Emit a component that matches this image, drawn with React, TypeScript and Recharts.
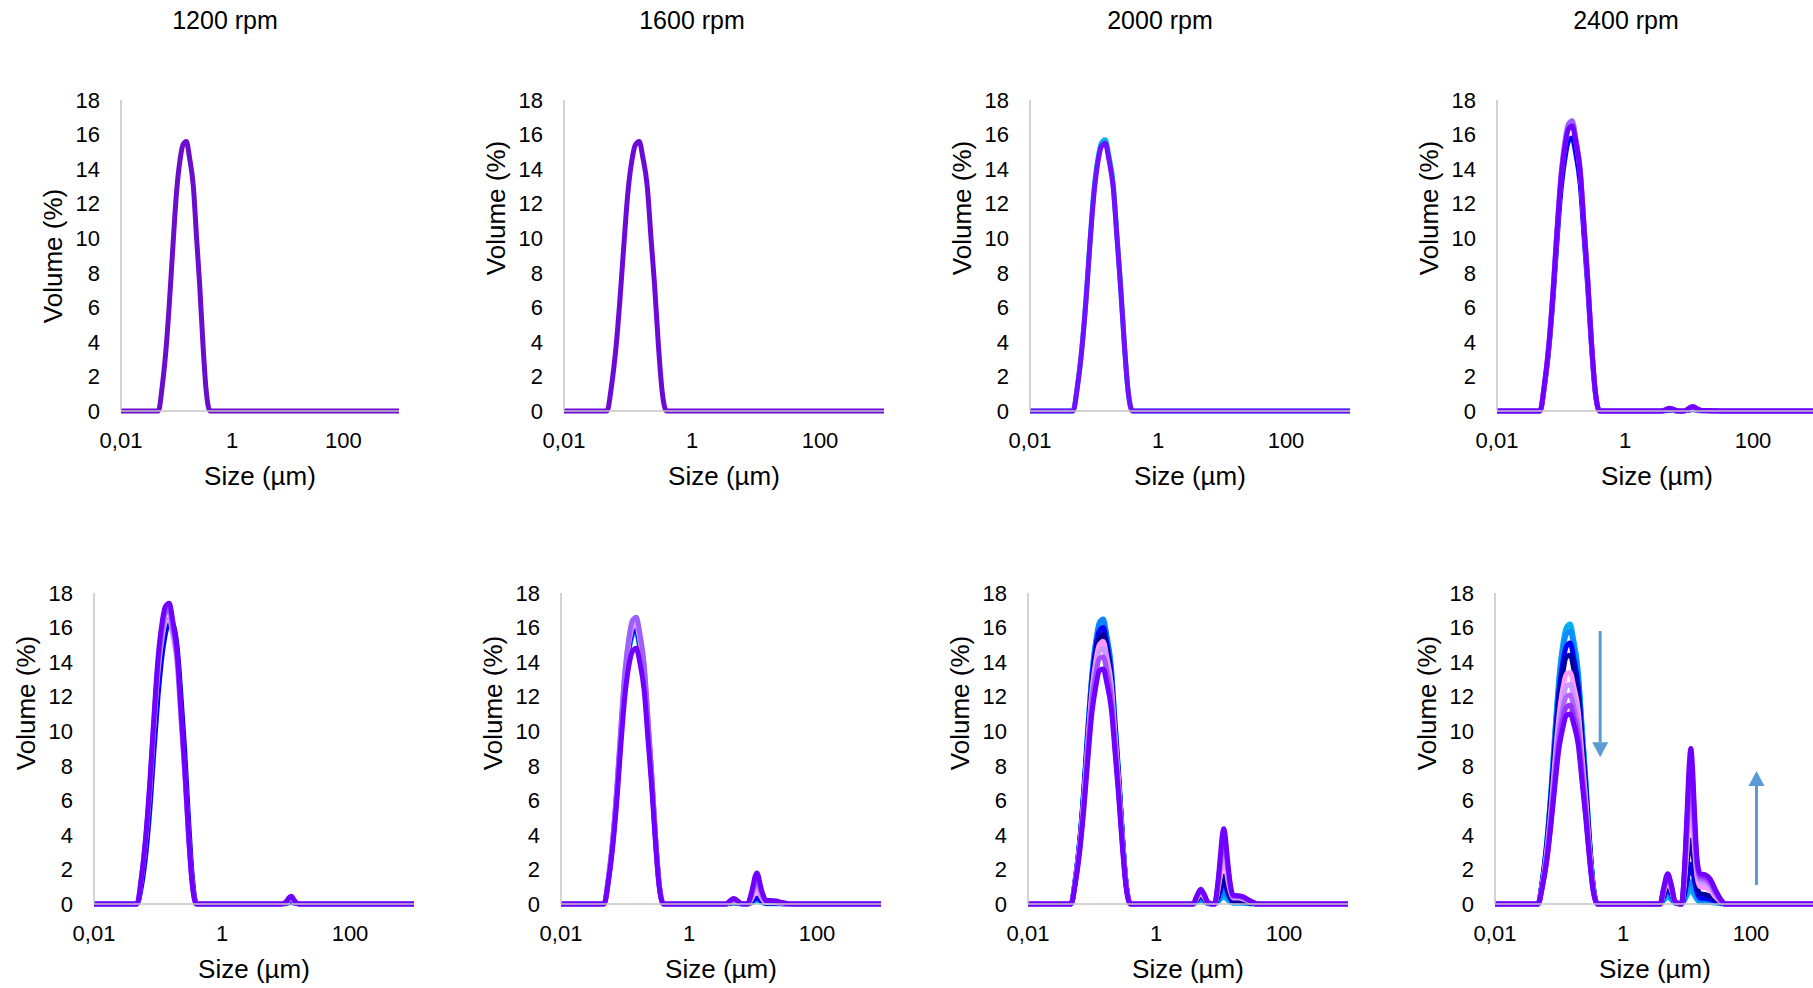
import React from "react"
import { LineChart, Line, XAxis, YAxis, ReferenceLine } from "recharts"

// particle size grid (µm): main population and coarse population
const MAIN_SIZES = [0.01, 0.047, 0.055, 0.065, 0.075, 0.085, 0.1, 0.115, 0.13, 0.15, 0.17, 0.2, 0.23, 0.26, 0.3, 0.34, 0.4]
const SEC_SIZES = [3.8, 4.3, 5.0, 5.7, 6.5, 8.2, 9.3, 10.2, 10.8, 11.5, 12.2, 13, 14.3, 16, 19, 23, 28, 34, 40, 1000]

const TITLES = ["1200 rpm", "1600 rpm", "2000 rpm", "2400 rpm"]
const X_TICKS = [0.01, 1, 100]
const Y_TICKS = [0, 2, 4, 6, 8, 10, 12, 14, 16, 18]

const FLAT_SEC = [0, 0, 0, 0, 0, 0, 0, 0, 0, 0, 0, 0, 0, 0, 0, 0, 0, 0, 0, 0]

// ---- top row ----
const T1200_MAIN = [[0, 0, 1.4, 3.7, 6.5, 9.3, 12.7, 14.5, 15.4, 15.6, 14.7, 13.0, 9.9, 7.3, 3.7, 1.2, 0]]
const T1200_SEC = [FLAT_SEC]
const T1200_COLORS = ["#6a0dcc"]

const T1600_MAIN = [[0, 0, 1.4, 3.7, 6.5, 9.3, 12.7, 14.5, 15.4, 15.6, 14.7, 13.0, 9.9, 7.3, 3.7, 1.2, 0]]
const T1600_SEC = [FLAT_SEC]
const T1600_COLORS = ["#6c0ad8"]

const T2000_MAIN = [
  [0, 0, 1.4, 3.7, 6.5, 9.4, 12.8, 14.6, 15.5, 15.7, 14.8, 13.1, 10.0, 7.3, 3.7, 1.2, 0],
  [0, 0, 1.4, 3.7, 6.4, 9.3, 12.6, 14.4, 15.3, 15.5, 14.6, 12.9, 9.9, 7.2, 3.7, 1.2, 0],
]
const T2000_SEC = [FLAT_SEC, FLAT_SEC]
const T2000_COLORS = ["#00b0f0", "#7010ff"]

const T2400_MAIN = [
  [0, 0, 1.4, 3.7, 6.5, 9.4, 12.8, 14.6, 15.6, 15.8, 14.9, 13.1, 10.0, 7.3, 3.7, 1.2, 0],
  [0, 0, 1.5, 3.9, 6.9, 9.9, 13.5, 15.4, 16.4, 16.6, 15.7, 13.8, 10.6, 7.7, 3.9, 1.3, 0],
  [0, 0, 1.5, 4.0, 7.0, 10.1, 13.7, 15.6, 16.6, 16.8, 15.8, 14.0, 10.7, 7.8, 4.0, 1.3, 0],
  [0, 0, 1.5, 3.9, 6.8, 9.9, 13.4, 15.3, 16.3, 16.5, 15.6, 13.8, 10.5, 7.7, 3.9, 1.3, 0],
]
const T2400_SEC = [
  [0, 0.02, 0.05, 0.03, 0, 0, 0.02, 0.05, 0.07, 0.08, 0.07, 0.05, 0.02, 0.01, 0.01, 0, 0, 0, 0, 0],
  [0, 0.05, 0.1, 0.06, 0.01, 0, 0.05, 0.1, 0.14, 0.15, 0.13, 0.09, 0.05, 0.02, 0.02, 0.01, 0, 0, 0, 0],
  [0, 0.06, 0.13, 0.08, 0.01, 0, 0.06, 0.14, 0.18, 0.2, 0.18, 0.12, 0.06, 0.02, 0.02, 0.02, 0.01, 0, 0, 0],
  [0, 0.08, 0.16, 0.1, 0.02, 0, 0.08, 0.18, 0.24, 0.26, 0.23, 0.16, 0.08, 0.03, 0.03, 0.02, 0.01, 0, 0, 0],
]
const T2400_COLORS = ["#0000ff", "#cc99ff", "#9f5fff", "#7000ff"]

// ---- bottom row ----
const B1200_MAIN = [
  [0, 0, 1.0, 3.0, 5.6, 8.5, 12.0, 14.3, 15.6, 16.3, 16.2, 14.8, 11.9, 9.0, 4.9, 1.8, 0],
  [0, 0, 1.5, 3.9, 6.8, 9.9, 13.4, 15.3, 16.3, 16.5, 15.6, 13.8, 10.5, 7.7, 3.9, 1.3, 0],
  [0, 0, 1.5, 4.0, 7.0, 10.2, 13.9, 15.8, 16.8, 17.0, 16.0, 14.2, 10.8, 7.9, 4.0, 1.3, 0],
  [0, 0, 1.5, 4.1, 7.2, 10.4, 14.2, 16.2, 17.2, 17.4, 16.4, 14.5, 11.1, 8.1, 4.1, 1.3, 0],
]
const B1200_SEC = [
  [0, 0, 0, 0, 0, 0, 0.01, 0.03, 0.06, 0.09, 0.1, 0.07, 0.02, 0, 0, 0, 0, 0, 0, 0],
  [0, 0, 0, 0, 0, 0, 0.03, 0.1, 0.2, 0.28, 0.3, 0.2, 0.07, 0, 0, 0, 0, 0, 0, 0],
  [0, 0, 0, 0, 0, 0, 0.04, 0.13, 0.25, 0.35, 0.38, 0.25, 0.08, 0, 0, 0, 0, 0, 0, 0],
  [0, 0, 0, 0, 0, 0, 0.05, 0.15, 0.3, 0.42, 0.45, 0.3, 0.1, 0, 0, 0, 0, 0, 0, 0],
]
const B1200_COLORS = ["#0000ff", "#cc99ff", "#9f5fff", "#7000ff"]

const B1600_MAIN = [
  [0, 0, 1.4, 3.7, 6.5, 9.4, 12.8, 14.6, 15.5, 15.7, 14.8, 13.1, 10.0, 7.3, 3.7, 1.2, 0],
  [0, 0, 1.4, 3.8, 6.6, 9.5, 13.0, 14.8, 15.7, 15.9, 15.0, 13.3, 10.1, 7.4, 3.8, 1.2, 0],
  [0, 0, 1.4, 3.8, 6.7, 9.7, 13.2, 15.1, 16.0, 16.2, 15.3, 13.5, 10.3, 7.5, 3.8, 1.2, 0],
  [0, 0, 1.5, 3.9, 6.8, 9.8, 13.4, 15.3, 16.2, 16.4, 15.5, 13.7, 10.4, 7.6, 3.9, 1.2, 0],
  [0, 0, 1.5, 3.9, 6.9, 9.9, 13.5, 15.4, 16.4, 16.6, 15.7, 13.8, 10.6, 7.7, 3.9, 1.3, 0],
  [0, 0, 1.3, 3.5, 6.1, 8.9, 12.1, 13.8, 14.6, 14.8, 14.0, 12.3, 9.4, 6.9, 3.5, 1.1, 0],
]
const B1600_SEC = [
  [0, 0.02, 0.05, 0.03, 0, 0, 0.06, 0.13, 0.18, 0.2, 0.18, 0.12, 0.06, 0.02, 0.02, 0.02, 0.01, 0, 0, 0],
  [0, 0.04, 0.08, 0.05, 0.01, 0, 0.1, 0.23, 0.31, 0.35, 0.31, 0.22, 0.1, 0.04, 0.04, 0.03, 0.02, 0, 0, 0],
  [0, 0.08, 0.15, 0.09, 0.01, 0, 0.24, 0.53, 0.71, 0.8, 0.7, 0.5, 0.24, 0.08, 0.08, 0.07, 0.04, 0.01, 0, 0],
  [0, 0.1, 0.2, 0.13, 0.02, 0, 0.33, 0.73, 0.98, 1.1, 0.97, 0.68, 0.33, 0.12, 0.12, 0.1, 0.06, 0.02, 0, 0],
  [0, 0.12, 0.25, 0.16, 0.02, 0, 0.42, 0.93, 1.25, 1.4, 1.23, 0.87, 0.42, 0.15, 0.15, 0.12, 0.07, 0.02, 0, 0],
  [0, 0.16, 0.32, 0.2, 0.03, 0, 0.55, 1.2, 1.6, 1.8, 1.6, 1.1, 0.55, 0.2, 0.2, 0.17, 0.09, 0.03, 0, 0],
]
const B1600_COLORS = ["#00b0f0", "#0000ff", "#ff99ff", "#cc99ff", "#9f5fff", "#7000ff"]

const B2000_MAIN = [
  [0, 0, 1.5, 3.8, 6.8, 9.8, 13.3, 15.2, 16.1, 16.3, 15.4, 13.6, 10.4, 7.6, 3.8, 1.2, 0],
  [0, 0, 1.5, 3.9, 6.8, 9.9, 13.4, 15.3, 16.3, 16.5, 15.6, 13.8, 10.5, 7.7, 3.9, 1.3, 0],
  [0, 0, 1.4, 3.8, 6.6, 9.6, 13.0, 14.9, 15.8, 16.0, 15.1, 13.3, 10.2, 7.4, 3.8, 1.2, 0],
  [0, 0, 1.4, 3.7, 6.5, 9.3, 12.7, 14.5, 15.4, 15.6, 14.7, 13.0, 9.9, 7.3, 3.7, 1.2, 0],
  [0, 0, 1.4, 3.6, 6.3, 9.1, 12.4, 14.1, 15.0, 15.2, 14.3, 12.7, 9.7, 7.1, 3.6, 1.2, 0],
  [0, 0, 1.3, 3.5, 6.1, 8.9, 12.1, 13.8, 14.6, 14.8, 14.0, 12.3, 9.4, 6.9, 3.5, 1.1, 0],
  [0, 0, 1.3, 3.4, 5.9, 8.6, 11.7, 13.3, 14.2, 14.3, 13.5, 11.9, 9.1, 6.6, 3.4, 1.1, 0],
  [0, 0, 1.2, 3.2, 5.6, 8.1, 11.1, 12.6, 13.5, 13.6, 12.8, 11.3, 8.7, 6.3, 3.2, 1.0, 0],
]
const B2000_SEC = [
  [0, 0.1, 0.2, 0.13, 0.02, 0, 0.12, 0.27, 0.36, 0.4, 0.35, 0.25, 0.12, 0.05, 0.05, 0.04, 0.02, 0.01, 0, 0],
  [0, 0.15, 0.3, 0.19, 0.03, 0, 0.2, 0.47, 0.62, 0.7, 0.62, 0.44, 0.2, 0.08, 0.08, 0.07, 0.04, 0.01, 0, 0],
  [0, 0.22, 0.45, 0.28, 0.04, 0, 0.36, 0.8, 1.05, 1.2, 1.05, 0.75, 0.36, 0.15, 0.14, 0.12, 0.07, 0.02, 0, 0],
  [0, 0.25, 0.5, 0.32, 0.05, 0, 0.5, 1.05, 1.4, 1.6, 1.4, 1.0, 0.5, 0.2, 0.19, 0.17, 0.09, 0.03, 0, 0],
  [0, 0.3, 0.6, 0.38, 0.05, 0, 0.8, 1.7, 2.3, 2.6, 2.3, 1.6, 0.8, 0.35, 0.34, 0.29, 0.16, 0.05, 0, 0],
  [0, 0.35, 0.7, 0.44, 0.06, 0, 0.95, 2.1, 2.8, 3.2, 2.8, 2.0, 0.95, 0.4, 0.39, 0.33, 0.18, 0.06, 0, 0],
  [0, 0.39, 0.78, 0.49, 0.07, 0, 1.15, 2.5, 3.4, 3.8, 3.3, 2.4, 1.15, 0.45, 0.44, 0.37, 0.21, 0.06, 0, 0],
  [0, 0.43, 0.85, 0.54, 0.08, 0, 1.3, 2.9, 3.9, 4.35, 3.8, 2.7, 1.3, 0.5, 0.48, 0.42, 0.23, 0.07, 0, 0],
]
const B2000_COLORS = ["#00b0f0", "#0a84ff", "#0000ff", "#000099", "#ff99ff", "#cc99ff", "#a64dff", "#7000ff"]

const B2400_MAIN = [
  [0, 0, 1.4, 3.8, 6.7, 9.7, 13.2, 15.1, 16.0, 16.2, 15.3, 13.5, 10.3, 7.5, 3.8, 1.2, 0],
  [0, 0, 1.4, 3.7, 6.5, 9.5, 12.9, 14.7, 15.6, 15.8, 14.9, 13.2, 10.1, 7.3, 3.7, 1.2, 0],
  [0, 0, 1.3, 3.6, 6.3, 9.0, 12.3, 14.0, 14.9, 15.1, 14.2, 12.6, 9.6, 7.0, 3.6, 1.1, 0],
  [0, 0, 1.3, 3.4, 6.0, 8.6, 11.7, 13.4, 14.3, 14.4, 13.6, 12.0, 9.2, 6.7, 3.4, 1.1, 0],
  [0, 0, 1.2, 3.2, 5.5, 8.0, 10.9, 12.5, 13.3, 13.4, 12.6, 11.2, 8.5, 6.2, 3.2, 1.0, 0],
  [0, 0, 1.1, 3.0, 5.3, 7.6, 10.4, 11.8, 12.6, 12.7, 12.0, 10.6, 8.1, 5.9, 3.0, 1.0, 0],
  [0, 0, 1.1, 2.9, 5.0, 7.2, 9.9, 11.3, 12.0, 12.1, 11.4, 10.1, 7.7, 5.6, 2.9, 0.9, 0],
  [0, 0, 1.0, 2.7, 4.8, 6.9, 9.4, 10.7, 11.4, 11.5, 10.8, 9.6, 7.3, 5.3, 2.7, 0.9, 0],
  [0, 0, 1.0, 2.6, 4.6, 6.6, 9.0, 10.2, 10.9, 11.0, 10.4, 9.2, 7.0, 5.1, 2.6, 0.8, 0],
]
const B2400_SEC = [
  [0, 0.2, 0.4, 0.25, 0.04, 0, 0.25, 0.55, 0.7, 0.8, 0.7, 0.5, 0.25, 0.1, 0.1, 0.08, 0.05, 0.02, 0, 0],
  [0, 0.3, 0.6, 0.38, 0.05, 0, 0.4, 0.85, 1.15, 1.3, 1.15, 0.8, 0.4, 0.2, 0.19, 0.16, 0.09, 0.03, 0, 0],
  [0, 0.43, 0.85, 0.55, 0.08, 0, 0.7, 1.5, 2.0, 2.3, 2.0, 1.4, 0.7, 0.35, 0.33, 0.27, 0.15, 0.05, 0, 0],
  [0, 0.55, 1.1, 0.7, 0.1, 0, 1.1, 2.5, 3.3, 3.7, 3.2, 2.3, 1.1, 0.6, 0.55, 0.45, 0.25, 0.08, 0, 0],
  [0, 0.65, 1.3, 0.8, 0.1, 0, 1.6, 3.6, 4.9, 5.5, 4.8, 3.4, 1.6, 1.0, 0.95, 0.8, 0.4, 0.12, 0, 0],
  [0, 0.75, 1.45, 0.9, 0.12, 0, 1.9, 4.3, 5.8, 6.5, 5.7, 4.0, 1.9, 1.25, 1.2, 1.0, 0.5, 0.15, 0, 0],
  [0, 0.8, 1.55, 1.0, 0.13, 0, 2.2, 4.8, 6.5, 7.3, 6.4, 4.5, 2.2, 1.45, 1.4, 1.15, 0.6, 0.18, 0, 0],
  [0, 0.85, 1.65, 1.05, 0.14, 0, 2.4, 5.4, 7.3, 8.2, 7.2, 5.1, 2.4, 1.6, 1.55, 1.3, 0.7, 0.2, 0, 0],
  [0, 0.9, 1.75, 1.1, 0.15, 0, 2.7, 6.0, 8.0, 9.0, 7.9, 5.6, 2.7, 1.75, 1.7, 1.45, 0.8, 0.25, 0, 0],
]
const B2400_COLORS = ["#00b0f0", "#0a8cff", "#0000ff", "#0000a0", "#ff99ff", "#cc99ff", "#b266ff", "#9933ff", "#7000ff"]

// trend arrows in the 2400 rpm bottom panel: [size, from %, to %]
const ARROWS = [
  [0.44, 15.8, 8.5],
  [122, 1.1, 7.7],
]

const FONT = '"Liberation Sans", Arial, sans-serif'
const PLOT_H = 311

const PANELS = [
  { main: T1200_MAIN, sec: T1200_SEC, colors: T1200_COLORS, axisX: 121, top: 100, w: 278, titleX: 225, labelY: 256, title: TITLES[0] },
  { main: T1600_MAIN, sec: T1600_SEC, colors: T1600_COLORS, axisX: 564, top: 100, w: 320, titleX: 692, labelY: 208, title: TITLES[1] },
  { main: T2000_MAIN, sec: T2000_SEC, colors: T2000_COLORS, axisX: 1030, top: 100, w: 320, titleX: 1160, labelY: 208, title: TITLES[2] },
  { main: T2400_MAIN, sec: T2400_SEC, colors: T2400_COLORS, axisX: 1497, top: 100, w: 320, titleX: 1626, labelY: 208, title: TITLES[3] },
  { main: B1200_MAIN, sec: B1200_SEC, colors: B1200_COLORS, axisX: 94, top: 593, w: 320, labelY: 703 },
  { main: B1600_MAIN, sec: B1600_SEC, colors: B1600_COLORS, axisX: 561, top: 593, w: 320, labelY: 703 },
  { main: B2000_MAIN, sec: B2000_SEC, colors: B2000_COLORS, axisX: 1028, top: 593, w: 320, labelY: 703 },
  { main: B2400_MAIN, sec: B2400_SEC, colors: B2400_COLORS, axisX: 1495, top: 593, w: 320, labelY: 703, arrows: true },
]

function buildRows(main: number[][], sec: number[][]) {
  const rows: any[] = []
  MAIN_SIZES.forEach((size, i) => {
    const r: any = { size }
    main.forEach((s, k) => (r["s" + k] = s[i]))
    rows.push(r)
  })
  SEC_SIZES.forEach((size, i) => {
    const r: any = { size }
    sec.forEach((s, k) => (r["s" + k] = s[i]))
    rows.push(r)
  })
  return rows
}

const fmtX = (v: number) => (v < 1 ? String(v).replace(".", ",") : String(v))

const Arrow = (props: any) => {
  const { x1, y1, x2, y2 } = props
  const dir = y2 > y1 ? 1 : -1
  const head = 15
  return (
    <g>
      <line x1={x1} y1={y1} x2={x2} y2={y2 - dir * head} stroke="#5b9bd5" strokeWidth={3} />
      <polygon points={`${x2},${y2} ${x2 - 8},${y2 - dir * head} ${x2 + 8},${y2 - dir * head}`} fill="#5b9bd5" />
    </g>
  )
}

const YW = 60
const MT = 20
const XH = 50

function Panel({ p }: { p: any }) {
  const data = buildRows(p.main, p.sec)
  return (
    <>
      <div style={{ position: "absolute", left: p.axisX - YW, top: p.top - MT }}>
        <LineChart width={YW + p.w + 6} height={MT + PLOT_H + XH} data={data} margin={{ top: MT, right: 6, left: 0, bottom: 0 }}>
          <XAxis
            dataKey="size"
            type="number"
            scale="log"
            domain={[0.01, 1000]}
            allowDataOverflow
            ticks={X_TICKS}
            tickFormatter={fmtX}
            interval={0}
            height={XH}
            tickLine={false}
            tickSize={0}
            tickMargin={21}
            axisLine={{ stroke: "#c4c4c4", strokeWidth: 1.5 }}
            tick={{ fill: "#000", fontSize: 22, fontFamily: FONT }}
          />
          <YAxis
            type="number"
            domain={[0, 18]}
            ticks={Y_TICKS}
            interval={0}
            width={YW}
            tickLine={false}
            tickSize={0}
            tickMargin={21}
            axisLine={{ stroke: "#c4c4c4", strokeWidth: 1.5 }}
            tick={{ fill: "#000", fontSize: 22, fontFamily: FONT }}
          />
          {p.colors.map((c: string, k: number) => (
            <Line
              key={k}
              type="monotone"
              dataKey={"s" + k}
              stroke={c}
              strokeWidth={5}
              strokeLinejoin="round"
              strokeLinecap="round"
              dot={false}
              activeDot={false}
              isAnimationActive={false}
            />
          ))}
          {p.arrows &&
            ARROWS.map((a, i) => (
              <ReferenceLine
                key={"a" + i}
                segment={[
                  { x: a[0], y: a[1] },
                  { x: a[0], y: a[2] },
                ]}
                shape={Arrow}
              />
            ))}
        </LineChart>
      </div>
      {p.title && (
        <div style={{ position: "absolute", left: p.titleX - 100, top: 5, width: 200, lineHeight: "30px", textAlign: "center", fontSize: 25 }}>
          {p.title}
        </div>
      )}
      <div
        style={{
          position: "absolute",
          left: p.axisX - 68 - 110,
          top: p.labelY - 16,
          width: 220,
          height: 32,
          lineHeight: "32px",
          textAlign: "center",
          fontSize: 26,
          transform: "rotate(-90deg)",
        }}
      >
        Volume (%)
      </div>
      <div
        style={{
          position: "absolute",
          left: p.axisX + p.w / 2 - 110,
          top: p.top + PLOT_H + 65 - 16,
          width: 220,
          lineHeight: "32px",
          textAlign: "center",
          fontSize: 26,
        }}
      >
        Size (µm)
      </div>
    </>
  )
}

export default function App() {
  return (
    <div style={{ position: "relative", width: 1813, height: 988, overflow: "hidden", background: "#fff", fontFamily: FONT, color: "#000" }}>
      <style>{`body{margin:0;overflow:hidden}`}</style>
      {PANELS.map((p, i) => (
        <Panel key={i} p={p} />
      ))}
    </div>
  )
}
